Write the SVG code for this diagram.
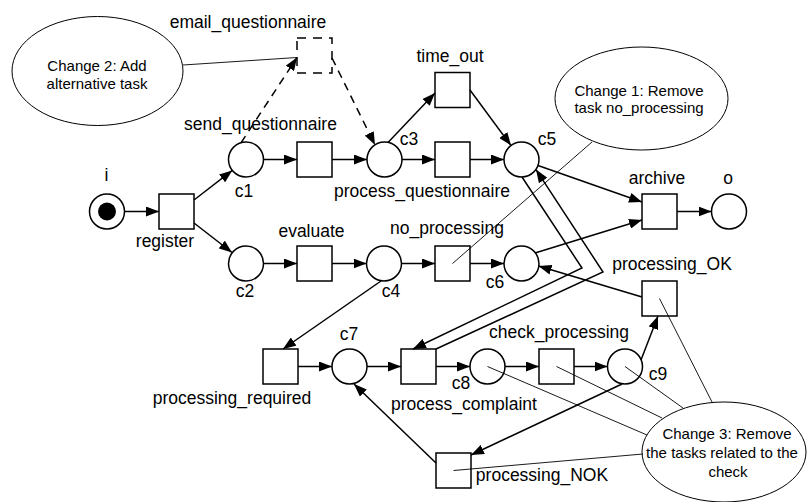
<svg xmlns="http://www.w3.org/2000/svg" width="810" height="502" viewBox="0 0 810 502">
  <defs>
    <marker id="arrow" markerUnits="userSpaceOnUse" markerWidth="14" markerHeight="10" refX="13" refY="5" orient="auto">
      <path d="M0,0 L13,5 L0,10 z" fill="#000"/>
    </marker>
  </defs>
  <style>
    .place{fill:#fff;stroke:#000;stroke-width:1.5}
    .trans{fill:#fff;stroke:#000;stroke-width:1.5}
    .dashed{stroke-dasharray:9 7}
    .lbl{font-family:"Liberation Sans",Arial,sans-serif;font-size:17.5px;text-anchor:middle;fill:#000}
    .note{font-family:"Liberation Sans",Arial,sans-serif;font-size:15px;text-anchor:middle;fill:#000}
    .cloud{fill:#fff;stroke:#000;stroke-width:1}
    .arc{fill:none;stroke:#000;stroke-width:1.5;stroke-linejoin:miter;marker-end:url(#arrow)}
    .arc.dashed{stroke-dasharray:8 6}
    .ann{fill:none;stroke:#000;stroke-width:0.9}
  </style>
  <rect width="810" height="502" fill="#fff"/>

  <!-- annotation clouds -->
  <g id="change2">
    <ellipse class="cloud" cx="97.5" cy="71" rx="85.5" ry="54.5"/>
    <text class="note" x="97" y="71">Change 2: Add</text>
    <text class="note" x="97" y="89">alternative task</text>
  </g>
  <g id="change1">
    <ellipse class="cloud" cx="641.5" cy="98.5" rx="86.5" ry="51.5"/>
    <text class="note" x="639" y="96">Change 1: Remove</text>
    <text class="note" x="639" y="113">task no_processing</text>
  </g>
  <g id="change3">
    <ellipse class="cloud" cx="724" cy="452" rx="82" ry="50"/>
    <text class="note" x="727" y="439">Change 3: Remove</text>
    <text class="note" x="722" y="458">the tasks related to the</text>
    <text class="note" x="728" y="477">check</text>
  </g>

  <!-- places -->
  <g id="i">
    <circle class="place" cx="107" cy="211.5" r="17.5"/>
    <circle cx="107" cy="211.5" r="9" fill="#000"/>
    <text class="lbl" x="106.5" y="181">i</text>
  </g>
  <g id="c1">
    <circle class="place" cx="246" cy="159.5" r="17.5"/>
    <text class="lbl" x="244" y="197">c1</text>
  </g>
  <g id="c2">
    <circle class="place" cx="246" cy="263.5" r="17.5"/>
    <text class="lbl" x="245" y="297">c2</text>
  </g>
  <g id="c3">
    <circle class="place" cx="384.5" cy="159.5" r="17.5"/>
    <text class="lbl" x="409" y="145">c3</text>
  </g>
  <g id="c4">
    <circle class="place" cx="384" cy="263.5" r="17.5"/>
    <text class="lbl" x="391" y="297">c4</text>
  </g>
  <g id="c5">
    <circle class="place" cx="521.5" cy="159.5" r="17.5"/>
    <text class="lbl" x="547" y="145">c5</text>
  </g>
  <g id="c6">
    <circle class="place" cx="521.5" cy="263.5" r="17.5"/>
    <text class="lbl" x="495" y="288">c6</text>
  </g>
  <g id="o">
    <circle class="place" cx="729" cy="211.5" r="17.5"/>
    <text class="lbl" x="728" y="184">o</text>
  </g>
  <g id="c7">
    <circle class="place" cx="349.5" cy="366.5" r="17.5"/>
    <text class="lbl" x="349" y="340">c7</text>
  </g>
  <g id="c8">
    <circle class="place" cx="487.5" cy="366.5" r="17.5"/>
    <text class="lbl" x="461" y="388.5">c8</text>
  </g>
  <g id="c9">
    <circle class="place" cx="625" cy="366.5" r="17.5"/>
    <text class="lbl" x="658" y="380">c9</text>
  </g>

  <!-- transitions -->
  <g id="register">
    <rect class="trans" x="159" y="194" width="35" height="35"/>
    <text class="lbl" x="165" y="247">register</text>
  </g>
  <g id="email_questionnaire">
    <rect class="trans dashed" x="297" y="38" width="35" height="35"/>
    <text class="lbl" x="248" y="28">email_questionnaire</text>
  </g>
  <g id="send_questionnaire">
    <rect class="trans" x="297" y="142" width="35" height="35"/>
    <text class="lbl" x="260.5" y="130">send_questionnaire</text>
  </g>
  <g id="evaluate">
    <rect class="trans" x="297" y="246" width="35" height="35"/>
    <text class="lbl" x="311.5" y="237">evaluate</text>
  </g>
  <g id="time_out">
    <rect class="trans" x="435" y="72.5" width="35" height="35"/>
    <text class="lbl" x="450" y="62">time_out</text>
  </g>
  <g id="process_questionnaire">
    <rect class="trans" x="435" y="142" width="35" height="35"/>
    <text class="lbl" x="422" y="197">process_questionnaire</text>
  </g>
  <g id="no_processing">
    <rect class="trans" x="435" y="246" width="35" height="35"/>
    <text class="lbl" x="447" y="234">no_processing</text>
  </g>
  <g id="archive">
    <rect class="trans" x="642" y="194" width="35" height="35"/>
    <text class="lbl" x="657" y="184">archive</text>
  </g>
  <g id="processing_OK">
    <rect class="trans" x="642" y="281" width="35" height="35"/>
    <text class="lbl" x="672" y="270">processing_OK</text>
  </g>
  <g id="processing_required">
    <rect class="trans" x="263" y="349" width="35" height="35"/>
    <text class="lbl" x="232" y="404">processing_required</text>
  </g>
  <g id="process_complaint">
    <rect class="trans" x="401" y="349" width="35" height="35"/>
    <text class="lbl" x="464" y="409.5">process_complaint</text>
  </g>
  <g id="check_processing">
    <rect class="trans" x="539" y="349" width="35" height="35"/>
    <text class="lbl" x="559" y="338">check_processing</text>
  </g>
  <g id="processing_NOK">
    <rect class="trans" x="436" y="453" width="35" height="35"/>
    <text class="lbl" x="542" y="481">processing_NOK</text>
  </g>

  <!-- arcs and annotation leaders -->
  <g id="connectors">
    <path class="arc" d="M124.5,211.5 H159"/>
    <path class="arc" d="M194,200 L232.3,170.4"/>
    <path class="arc" d="M194,223 L232,252.5"/>
    <path class="arc" d="M263.5,159.5 H297"/>
    <path class="arc" d="M332,159.5 H367"/>
    <path class="arc" d="M402,159.5 H435"/>
    <path class="arc" d="M470,159.5 H504"/>
    <path class="arc" d="M388,142.5 L435,93"/>
    <path class="arc" d="M470,90 L511,145.5"/>
    <path class="arc dashed" d="M241,142.8 L297,57.5"/>
    <path class="arc dashed" d="M332,58 L375,145"/>
    <path class="arc" d="M538,165.5 L642,202"/>
    <path class="arc" d="M535,253 L642,220"/>
    <path class="arc" d="M677,211.5 H711.5"/>
    <path class="arc" d="M263.5,263.5 H297"/>
    <path class="arc" d="M332,263.5 H366.5"/>
    <path class="arc" d="M401.5,263.5 H435"/>
    <path class="arc" d="M470,263.5 H504"/>
    <path class="arc" d="M642,297 L538.5,266"/>
    <path class="arc" d="M381,281 L283,349"/>
    <path class="arc" d="M522,177 L582,268 L413,349"/>
    <path class="arc" d="M436,349 L603,272 L536,169.6"/>
    <path class="arc" d="M298,366.5 H332"/>
    <path class="arc" d="M367,366.5 H401"/>
    <path class="arc" d="M436,366.5 H470"/>
    <path class="arc" d="M505,366.5 H539"/>
    <path class="arc" d="M574,366.5 H607.5"/>
    <path class="arc" d="M641,360 L658,316"/>
    <path class="arc" d="M622,384 L471,455"/>
    <path class="arc" d="M436,463 L354,384"/>

    <path class="ann" d="M183,65 L297,57.5"/>
    <path class="ann" d="M592,142 L452.5,263.5"/>
    <path class="ann" d="M647,435 L487.5,366.5"/>
    <path class="ann" d="M662,418 L556.5,366.5"/>
    <path class="ann" d="M683,408 L625,366.5"/>
    <path class="ann" d="M712,402 L659.5,298.5"/>
    <path class="ann" d="M643,454 L453.5,470.5"/>
  </g>
</svg>
